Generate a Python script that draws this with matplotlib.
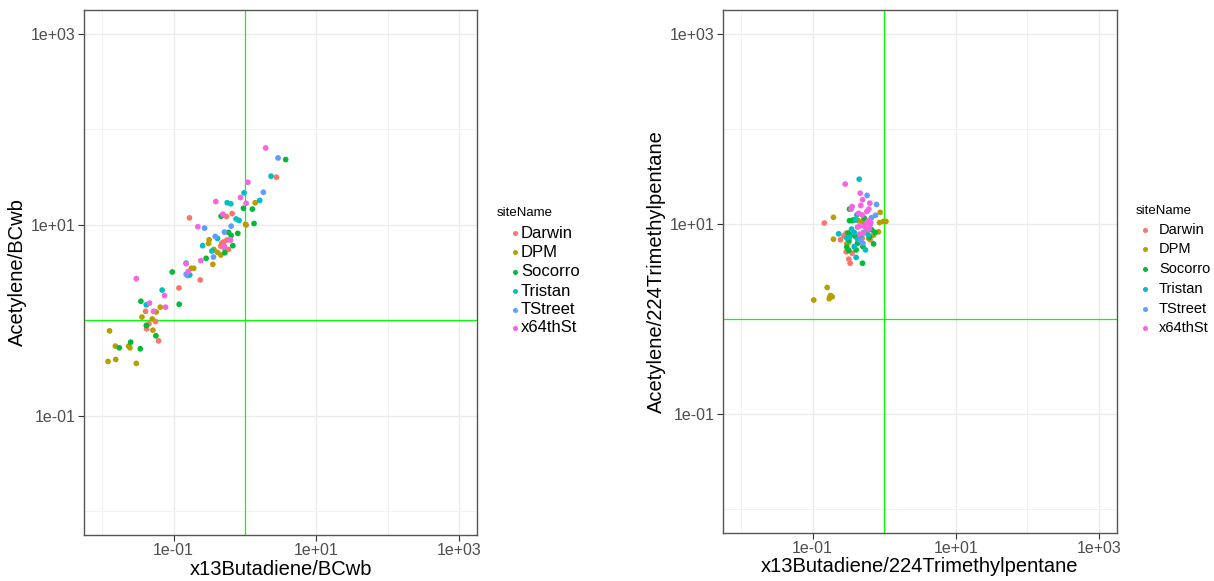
import matplotlib
matplotlib.use("Agg")
import matplotlib.pyplot as plt
from matplotlib.lines import Line2D
import numpy as np

plt.rcParams['font.family'] = ['Liberation Sans', 'DejaVu Sans']

sites = ['Darwin', 'DPM', 'Socorro', 'Tristan', 'TStreet', 'x64thSt']
colors = ['#F8766D', '#B79F00', '#00BA38', '#00BFC4', '#619CFF', '#F564E3']

# x13Butadiene/BCwb vs Acetylene/BCwb
bc_x = {
    'Darwin': [2.76, 0.662, 0.551, 0.167, 1.04, 0.474, 0.500, 0.557, 0.627, 0.588,
               0.522, 0.459, 0.236, 0.119, 0.157, 0.0406, 0.0452, 0.0560, 0.0419, 0.0617],
    'DPM': [1.39, 1.02, 0.315, 0.309, 0.367, 0.412, 0.459, 0.355, 0.177, 0.192, 0.0652,
            0.0573, 0.0361, 0.0504, 0.0514, 0.0127, 0.0153, 0.0235, 0.0245, 0.0121,
            0.0155, 0.0301],
    'Socorro': [3.72, 1.27, 0.953, 1.34, 0.794, 0.464, 0.641, 0.588, 0.676, 0.522,
                0.286, 0.0958, 0.120, 0.0349, 0.0415, 0.0566, 0.0251, 0.0174, 0.0342],
    'Tristan': [2.32, 1.61, 0.973, 0.564, 0.634, 0.751, 0.828, 0.412, 0.255, 0.344,
                0.150, 0.169, 0.0693, 0.0415],
    'TStreet': [2.91, 1.81, 0.641, 0.272, 0.383, 0.516, 0.362, 0.150],
    'x64thSt': [1.95, 1.10, 0.391, 0.865, 1.04, 0.490, 0.219, 0.150, 0.160, 0.241,
                0.0301, 0.0748, 0.0461, 0.0525, 0.0773, 0.516, 0.621],
}
bc_y = {
    'Darwin': [31.5, 13.1, 12.2, 11.8, 9.92, 6.43, 6.59, 6.92, 6.92, 5.52, 5.61, 5.98,
               2.64, 2.18, 2.93, 1.24, 0.916, 0.969, 0.813, 0.608],
    'DPM': [17.0, 10.1, 6.97, 6.38, 5.52, 5.14, 4.82, 3.85, 3.50, 3.50, 1.37, 1.22,
            1.08, 1.03, 0.787, 0.774, 0.536, 0.536, 0.514, 0.370, 0.388, 0.353],
    'Socorro': [48.2, 14.6, 14.9, 10.3, 8.12, 12.3, 7.74, 8.32, 6.04, 5.09, 4.45, 3.20,
                1.47, 1.58, 0.881, 0.687, 0.589, 0.514, 0.502],
    'Tristan': [32.3, 18.0, 21.6, 17.0, 16.6, 11.5, 11.1, 7.20, 6.04, 5.31, 3.97, 2.98,
                2.07, 1.45],
    'TStreet': [50.1, 21.9, 9.68, 9.23, 7.55, 8.38, 4.59, 3.03],
    'x64thSt': [63.8, 27.9, 17.5, 19.3, 16.8, 12.9, 9.53, 3.91, 3.23, 4.21, 2.73, 1.81,
                1.51, 1.24, 1.37, 5.94, 6.97],
}

# x13Butadiene/224Trimethylpentane vs Acetylene/224Trimethylpentane
tmp_x = {
    'Darwin': [0.146, 0.246, 0.274, 0.321, 0.295, 0.357, 0.321, 0.335, 0.439, 0.493,
               0.637, 0.573, 0.295],
    'DPM': [0.196, 0.196, 0.859, 0.977, 1.06, 0.832, 0.879, 0.301, 0.611, 0.710, 0.504,
            0.434, 0.160, 0.178, 0.188, 0.171, 0.176, 0.104],
    'Socorro': [0.328, 0.328, 0.354, 0.373, 0.526, 0.314, 0.343, 0.425, 0.321, 0.398,
                0.504, 0.406, 0.321, 0.710, 0.748, 0.624, 0.498, 0.301, 0.673],
    'Tristan': [0.448, 0.415, 0.398, 0.350, 0.381, 0.231, 0.328, 0.462, 0.425, 0.301,
                0.514, 0.381, 0.548, 0.406, 0.597],
    'TStreet': [0.578, 0.781, 0.757, 0.665, 0.504, 0.467, 0.637],
    'x64thSt': [0.286, 0.462, 0.498, 0.472, 0.631, 0.611, 0.573, 0.357, 0.346, 0.439,
                0.493, 0.611, 0.573, 0.652, 0.462, 0.425, 0.531, 0.624, 0.514, 0.453],
}
tmp_y = {
    'Darwin': [10.2, 6.79, 7.48, 6.37, 5.07, 4.91, 4.25, 3.85, 6.79, 7.07, 6.79, 8.51, 7.98],
    'DPM': [11.7, 6.90, 10.3, 10.6, 10.6, 8.24, 13.2, 6.15, 7.01, 7.60, 10.6, 10.8,
            2.14, 1.76, 1.71, 1.63, 1.72, 1.58],
    'Socorro': [14.3, 10.8, 10.8, 11.0, 11.5, 7.98, 7.66, 6.25, 6.68, 7.36, 5.77, 5.32,
                5.24, 6.15, 8.11, 7.24, 3.85, 5.68, 8.65],
    'Tristan': [29.5, 12.4, 11.0, 8.79, 8.11, 7.85, 7.24, 7.48, 6.90, 7.07, 8.11, 5.77,
                5.32, 4.43, 7.66],
    'TStreet': [19.9, 16.0, 12.3, 11.6, 6.25, 6.68, 9.76],
    'x64thSt': [26.2, 21.0, 17.9, 15.6, 16.5, 14.3, 13.5, 15.2, 14.3, 12.9, 12.4, 10.8,
                10.2, 10.3, 9.53, 9.23, 9.37, 8.93, 7.98, 7.78],
}

major = [1e-1, 1e1, 1e3]
major_labels = ['1e-01', '1e+01', '1e+03']
minor = [1e-2, 1e0, 1e2]
lims = (10 ** -2.25, 10 ** 3.25)

W, H = 1214, 581
fig = plt.figure(figsize=(W / 100, H / 100), dpi=100)


def panel(rect, xs, ys, xlabel, ylabel):
    ax = fig.add_axes(rect)
    ax.set_xscale('log')
    ax.set_yscale('log')
    ax.set_xlim(lims)
    ax.set_ylim(lims)
    for axis in (ax.xaxis, ax.yaxis):
        axis.set_ticks(major)
        axis.set_ticklabels(major_labels)
        axis.set_ticks(minor, minor=True)
        axis.set_minor_formatter(plt.NullFormatter())
    ax.tick_params(which='major', length=4, width=0.8, color='#333333',
                   labelsize=11.5, labelcolor='#4D4D4D', pad=2)
    ax.tick_params(which='minor', length=0)
    ax.grid(which='major', color='#EBEBEB', lw=1.0)
    ax.grid(which='minor', color='#F2F2F2', lw=0.7)
    ax.set_axisbelow(True)
    for sp in ax.spines.values():
        sp.set_color('#555555')
        sp.set_linewidth(1.0)
    for site, c in zip(sites, colors):
        ax.scatter(xs[site], ys[site], s=17, color=c, edgecolors='none', zorder=3)
    ax.axvline(1, color='#00FF00', lw=0.9, zorder=2)
    ax.axhline(1, color='#00FF00', lw=0.9, zorder=2)
    ax.set_xlabel(xlabel, fontsize=14.5, labelpad=1)
    ax.set_ylabel(ylabel, fontsize=14.5, labelpad=3)
    return ax


def legend(title_x, title_y, marker_x, text_x, ys, fs):
    fig.text(title_x / W, 1 - title_y / H, 'siteName', fontsize=9.5,
             va='center', ha='left')
    for site, c, y in zip(sites, colors, ys):
        fig.add_artist(Line2D([marker_x / W], [1 - y / H], marker='o', ms=3.6,
                              color=c, mec='none', transform=fig.transFigure))
        fig.text(text_x / W, 1 - y / H, site, fontsize=fs, va='center', ha='left')


panel([84.3 / W, (H - 535) / H, 392.7 / W, 525 / H], bc_x, bc_y,
      'x13Butadiene/BCwb', 'Acetylene/BCwb')
panel([723 / W, (H - 532.7) / H, 394 / W, 522.7 / H], tmp_x, tmp_y,
      'x13Butadiene/224Trimethylpentane', 'Acetylene/224Trimethylpentane')

legend(497, 213, 515, 521, [233, 252, 272, 291, 310, 328], 12)
legend(1136, 211, 1145, 1159, [230, 249, 269, 289, 309, 328], 10.5)

fig.savefig('out.png', dpi=100, facecolor='white')
